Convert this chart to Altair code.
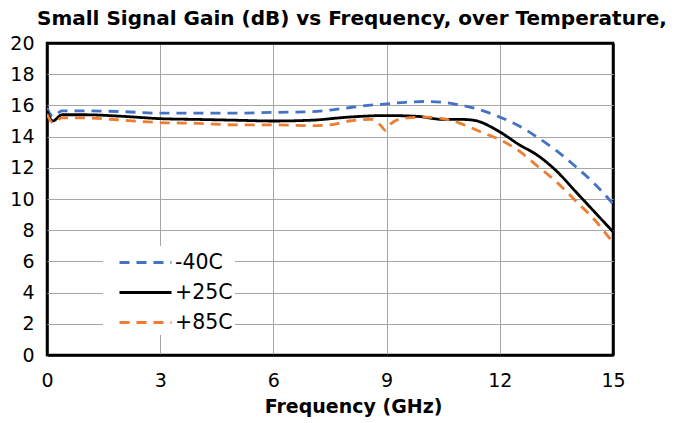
import altair as alt
import pandas as pd

series = ["-40C", "+25C", "+85C"]
colors = ["#4472C4", "#000000", "#ED7D31"]

freq_m40 = [0, 0.15, 0.4, 1, 2, 3, 4, 5, 6, 7, 7.5, 8, 8.5, 9, 9.5, 10, 10.5, 11, 11.5, 12, 12.5, 13, 13.5, 14, 14.5, 15]
gain_m40 = [15.85, 15.3, 15.65, 15.65, 15.6, 15.5, 15.5, 15.5, 15.55, 15.6, 15.7, 15.85, 16.0, 16.1, 16.2, 16.25, 16.2, 16.0, 15.7, 15.25, 14.7, 13.95, 13.1, 12.1, 11.0, 9.7]

freq_p25 = [0, 0.15, 0.4, 1, 2, 3, 4, 5, 6, 7, 8, 9, 9.8, 10.5, 11, 11.3, 12, 12.5, 13, 13.5, 14, 14.5, 15]
gain_p25 = [15.65, 15.0, 15.4, 15.4, 15.3, 15.15, 15.1, 15.05, 15.0, 15.05, 15.25, 15.35, 15.3, 15.1, 15.1, 15.05, 14.3, 13.5, 12.8, 11.8, 10.5, 9.2, 7.9]

freq_p85 = [0, 0.15, 0.4, 1, 2, 3, 4, 5, 6, 7, 7.5, 8, 8.6, 8.85, 8.97, 9.1, 9.4, 10, 10.7, 11, 11.5, 12, 12.5, 13, 13.5, 14, 14.5, 15]
gain_p85 = [15.45, 14.9, 15.2, 15.2, 15.05, 14.9, 14.85, 14.75, 14.75, 14.7, 14.75, 15.0, 15.1, 14.7, 14.4, 14.8, 15.15, 15.25, 15.05, 14.8, 14.3, 13.8, 13.1, 12.1, 11.1, 9.9, 8.7, 7.2]

x_ticks = [0, 3, 6, 9, 12, 15]
y_ticks = list(range(0, 21, 2))

rows = []
for name, fs, gs in [(series[0], freq_m40, gain_m40), (series[1], freq_p25, gain_p25), (series[2], freq_p85, gain_p85)]:
    for f, g in zip(fs, gs):
        rows.append({"series": name, "freq": f, "gain": g})
df = pd.DataFrame(rows)

FONT = "DejaVu Sans"
FS = 19

legend = alt.Legend(
    title=None, orient="none", legendX=56, legendY=203, fillColor="white",
    padding=2, symbolType="M-2,0H2", symbolSize=676, symbolStrokeWidth=3,
    symbolOffset=26, labelOffset=15, labelFontSize=20.5, labelFont=FONT,
    labelColor="black", rowPadding=5,
)

edge_x = "datum.value == 0 || datum.value == 15"
edge_y = "datum.value == 0 || datum.value == 20"

chart = alt.Chart(df).mark_line(interpolate="monotone", strokeWidth=2.8, clip=True).encode(
    x=alt.X("freq:Q", scale=alt.Scale(domain=[0, 15], nice=False),
            axis=alt.Axis(values=x_ticks, title="Frequency (GHz)", titleFont=FONT, titleFontSize=FS,
                          titleFontWeight="bold", titleColor="black", titleX=306, titlePadding=7,
                          labelFont=FONT, labelFontSize=FS, labelColor="black", labelPadding=16,
                          labelFlush=False, ticks=False, domain=False,
                          gridColor={"condition": {"test": edge_x, "value": "black"}, "value": "#A6A6A6"},
                          gridWidth={"condition": {"test": edge_x, "value": 2.5}, "value": 1})),
    y=alt.Y("gain:Q", scale=alt.Scale(domain=[0, 20], nice=False),
            axis=alt.Axis(values=y_ticks, title=None, labelFont=FONT, labelFontSize=FS,
                          labelColor="black", labelPadding=13, ticks=False, domain=False,
                          gridColor={"condition": {"test": edge_y, "value": "black"}, "value": "#A6A6A6"},
                          gridWidth={"condition": {"test": edge_y, "value": 2.5}, "value": 1})),
    color=alt.Color("series:N", scale=alt.Scale(domain=series, range=colors), legend=legend),
    strokeDash=alt.StrokeDash("series:N", scale=alt.Scale(domain=series, range=[[10, 7], [1, 0], [10, 7]]), legend=legend),
).properties(
    width=566, height=312,
    title=alt.Title("Small Signal Gain (dB) vs Frequency, over Temperature,", anchor="start", frame="group", dx=-10,
                    font=FONT, fontSize=20, fontWeight="bold", color="black", offset=5),
    autosize=alt.AutoSizeParams(type="none"),
    padding={"left": 39, "top": 35, "right": 62, "bottom": 66},
).configure_view(stroke="black", strokeWidth=2.5)

chart.save("out.html", embed_options={"renderer": "svg", "actions": False})
